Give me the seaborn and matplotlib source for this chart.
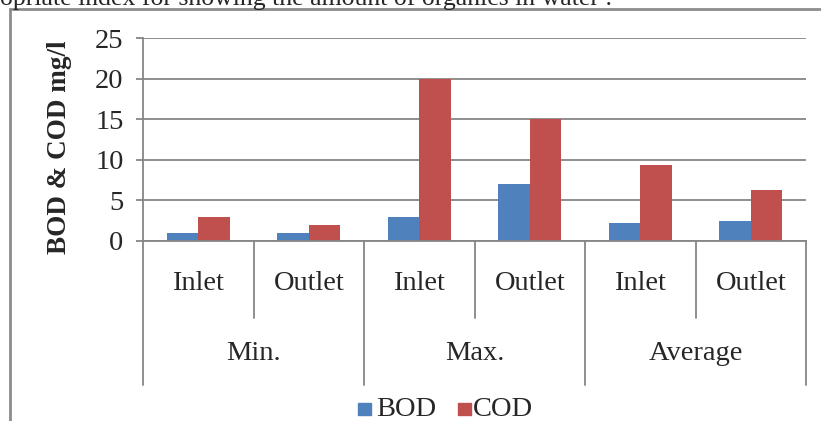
import matplotlib
matplotlib.use("Agg")
import matplotlib.pyplot as plt
from matplotlib.patches import Rectangle
from matplotlib.transforms import blended_transform_factory
import seaborn as sns
import pandas as pd

# Data
groups = ["Min.", "Max.", "Average"]
points = ["Inlet", "Outlet"]
bod = [1, 1, 3, 7, 2.2, 2.5]
cod = [3, 2, 20, 15, 9.3, 6.3]
series = ["BOD", "COD"]
colors = ["#4F81BD", "#C0504D"]
y_ticks = [0, 5, 10, 15, 20, 25]

slots = [f"{g}|{p}" for g in groups for p in points]
df = pd.DataFrame({
    "slot": slots * 2,
    "series": ["BOD"] * len(slots) + ["COD"] * len(slots),
    "value": bod + cod,
})

sns.set_theme(style="white")
plt.rcParams["font.family"] = ["Liberation Serif", "DejaVu Serif"]

W, H = 821, 421
FS = 20.5
fig = plt.figure(figsize=(W / 100, H / 100), dpi=100)
ax = fig.add_axes([143 / W, 1 - 241 / H, (806 - 143) / W, (241 - 38) / H])

sns.barplot(data=df, x="slot", y="value", hue="series", order=slots,
            hue_order=series, palette=colors, width=0.574, gap=0,
            saturation=1, edgecolor="none", linewidth=0, ax=ax, legend=False)

grid_c = "#868686"
ax.set_ylim(0, 25)
ax.set_xlim(-0.5, len(slots) - 0.5)
ax.set_yticks(y_ticks)
ax.set_yticklabels([str(t) for t in y_ticks], fontsize=FS)
ax.yaxis.grid(True, color=grid_c, linewidth=1.3)
ax.set_axisbelow(True)
ax.tick_params(axis="y", length=5, width=1.3, color=grid_c, pad=9, left=True)
ax.tick_params(axis="x", bottom=False, labelbottom=False)
for side in ["top", "right"]:
    ax.spines[side].set_visible(False)
ax.spines["left"].set_color(grid_c)
ax.spines["left"].set_linewidth(1.3)
ax.spines["bottom"].set_color(grid_c)
ax.spines["bottom"].set_linewidth(1.3)
ax.set_xlabel("")
ax.set_ylabel("")
fig.text(60 / W, 1 - 147 / H, "BOD & COD mg/l", rotation=90, ha="center",
         va="center", fontsize=19.5, fontweight="bold")

# Two-level category axis below the plot
tr = blended_transform_factory(ax.transData, fig.transFigure)
y_base = 1 - 241 / H
y_inner = 1 - 318 / H
y_outer = 1 - 385 / H
for i in range(len(slots) + 1):
    x = i - 0.5
    low = y_outer if i % 2 == 0 else y_inner
    fig.add_artist(plt.Line2D([x, x], [y_base, low], transform=tr,
                              color=grid_c, linewidth=1.3))
for i, s in enumerate(slots):
    fig.text(i, 1 - 283 / H, s.split("|")[1], transform=tr,
             ha="center", va="center", fontsize=FS)
for j, g in enumerate(groups):
    fig.text(2 * j + 0.5, 1 - 354 / H, g, transform=tr,
             ha="center", va="center", fontsize=FS)

# Legend
for lx, tx, col, lab in [(358, 376, colors[0], series[0]), (458, 473, colors[1], series[1])]:
    fig.add_artist(Rectangle((lx / W, 1 - 415 / H), 13 / W, 12 / H,
                             transform=fig.transFigure, color=col))
    fig.text(tx / W, 1 - 409 / H, lab, ha="left", va="center", fontsize=FS)

# Chart frame
fig.add_artist(Rectangle((10 / W, -0.1), 1.2, 1 - 9.5 / H + 0.1,
                         transform=fig.transFigure, fill=False,
                         edgecolor="#8C8C8C", linewidth=2))

# Preceding line of body text
fig.text(0, 1 - 5 / H, "opriate index for showing the amount of organics in water .",
         ha="left", va="baseline", fontsize=18.5)

fig.savefig("out.png", dpi=100)
